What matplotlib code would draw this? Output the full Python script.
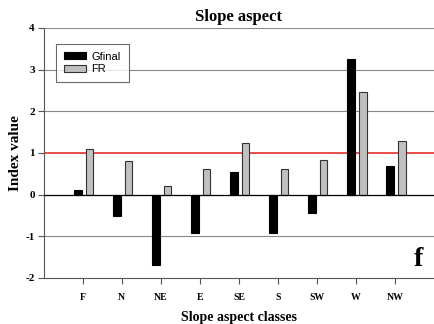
import matplotlib
matplotlib.use("Agg")
import matplotlib.pyplot as plt
import numpy as np

# dados
classes = ['F', 'N', 'NE', 'E', 'SE', 'S', 'SW', 'W', 'NW']
gfinal = [0.10, -0.52, -1.68, -0.93, 0.55, -0.93, -0.43, 3.25, 0.68]
fr = [1.10, 0.80, 0.20, 0.62, 1.23, 0.62, 0.82, 2.45, 1.29]

serif = ['Liberation Serif', 'DejaVu Serif']

fig = plt.figure(figsize=(4.34, 3.24), dpi=100)
ax = fig.add_axes([0.101, 0.142, 0.899, 0.772])

x = np.arange(1, len(classes) + 1)
w = 0.2
ax.bar(x - 0.13, gfinal, w, color='black', edgecolor='black', linewidth=0.8, label='Gfinal', zorder=3)
ax.bar(x + 0.17, fr, w, color='#c0c0c0', edgecolor='#333333', linewidth=0.8, label='FR', zorder=3)

# grade horizontal e linhas de referencia
for yv in [-1, 2, 3, 4]:
    ax.axhline(yv, color='#888888', linewidth=0.8, zorder=1)
ax.axhline(0, color='black', linewidth=0.9, zorder=4)
ax.axhline(1, color='#e8302a', linewidth=1.2, zorder=2)

ax.set_xlim(0, 10)
ax.set_ylim(-2, 4)
ax.set_xticks(x)
ax.set_xticklabels(classes, fontfamily=serif, fontweight='bold', fontsize=7)
ax.set_yticks(range(-2, 5))
ax.set_yticklabels([str(v) for v in range(-2, 5)], fontfamily=serif, fontweight='bold', fontsize=8)
ax.tick_params(axis='both', direction='out', length=4, width=0.8, color='#555555')
ax.tick_params(axis='x', pad=7)
ax.tick_params(axis='y', pad=2.5)

for s in ['top', 'right']:
    ax.spines[s].set_visible(False)
ax.spines['left'].set_color('#555555')
ax.spines['bottom'].set_color('#555555')

ax.set_title('Slope aspect', fontfamily=serif, fontweight='bold', fontsize=12, pad=5)
ax.set_ylabel('Index value', fontfamily=serif, fontweight='bold', fontsize=11)
ax.yaxis.set_label_coords(-0.056, 0.5)
ax.set_xlabel('Slope aspect classes', fontfamily=serif, fontweight='bold', fontsize=10, labelpad=6)

ax.text(9.6, -1.55, 'f', fontfamily=serif, fontweight='bold', fontsize=20, ha='center', va='center')

leg = ax.legend(loc='upper left', bbox_to_anchor=(0.031, 0.936), frameon=True, fancybox=False,
                edgecolor='#444444', prop={'family': 'Liberation Sans', 'size': 8},
                handlelength=2.0, handleheight=0.6, handletextpad=0.5, borderpad=0.7,
                labelspacing=0.25, borderaxespad=0)
leg.get_frame().set_linewidth(0.8)

fig.savefig('out.png', dpi=100)
